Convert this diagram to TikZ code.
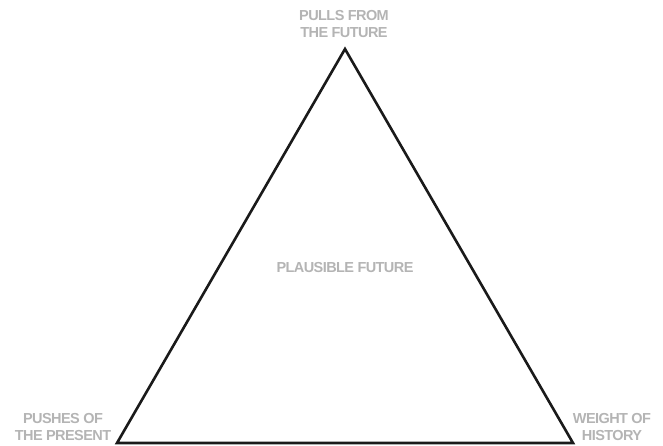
\documentclass[tikz,border=0pt]{standalone}
\usepackage{fontspec}
\setmainfont{Liberation Sans}
\usetikzlibrary{positioning}
\definecolor{tgray}{HTML}{B4B4B4}
\definecolor{tblack}{HTML}{1A1A1A}
\tikzset{
  corner/.style={text=tgray, font=\bfseries\fontsize{14.5}{17}\selectfont\addfontfeature{LetterSpace=-4}, align=center, inner sep=0pt},
  edge/.style={draw=tblack, line width=2.6pt, line join=miter}
}
\begin{document}
\begin{tikzpicture}[x=1pt, y=1pt]
  \useasboundingbox (0,0) rectangle (663,445);
  \coordinate (top) at (345,396);
  \coordinate (left) at (117,2);
  \coordinate (right) at (573,2);

  \draw[edge] (top) -- (left) -- (right) -- cycle;

  \node[corner] (pulls) at (344,421) {PULLS FROM\\THE FUTURE};
  \node[corner] (pushes) at (63,18) {PUSHES OF\\THE PRESENT};
  \node[corner] (weight) at (612,18) {WEIGHT OF\\HISTORY};
  \node[corner] (plausible) at (345,177) {PLAUSIBLE FUTURE};
\end{tikzpicture}
\end{document}
